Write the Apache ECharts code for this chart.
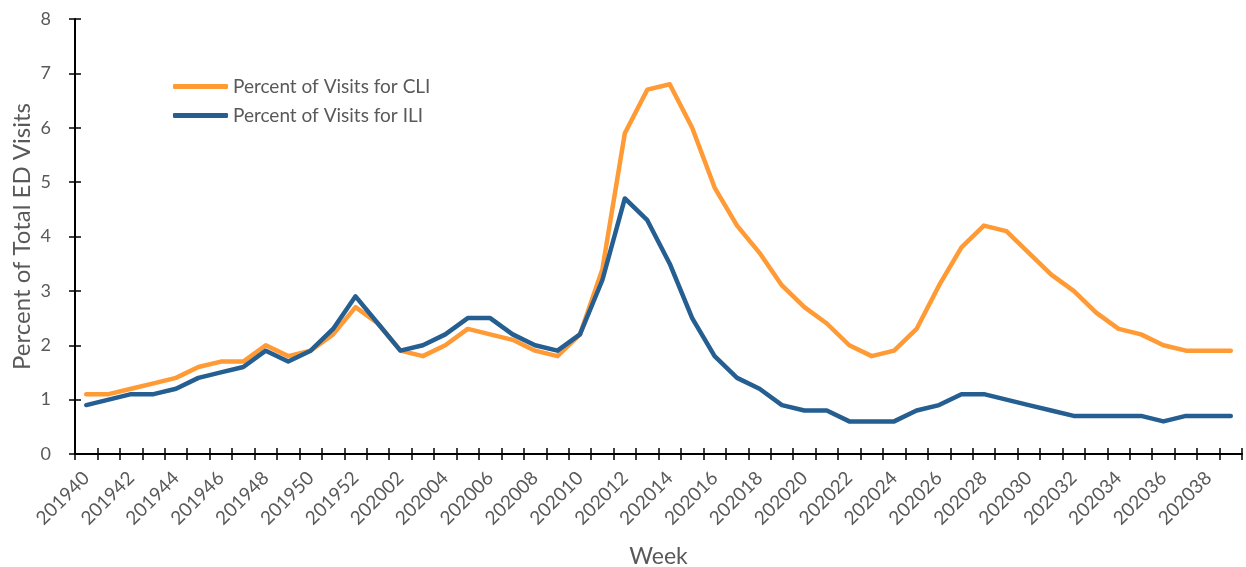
<!DOCTYPE html>
<html>
<head>
<meta charset="utf-8">
<script src="https://cdn.jsdelivr.net/npm/echarts@6/dist/echarts.min.js"></script>
<style>
  html, body { margin: 0; padding: 0; background: #ffffff; }
  #chart { width: 1246px; height: 567px; }
</style>
</head>
<body>
<div id="chart"></div>
<script>
// MMWR weeks, 2019 week 40 through 2020 week 39
const weeks = [
  '201940','201941','201942','201943','201944','201945','201946','201947','201948','201949',
  '201950','201951','201952','202001','202002','202003','202004','202005','202006','202007',
  '202008','202009','202010','202011','202012','202013','202014','202015','202016','202017',
  '202018','202019','202020','202021','202022','202023','202024','202025','202026','202027',
  '202028','202029','202030','202031','202032','202033','202034','202035','202036','202037',
  '202038','202039'
];

// Percent of ED visits for COVID-like illness
const cliPercent = [
  1.1, 1.1, 1.2, 1.3, 1.4, 1.6, 1.7, 1.7, 2.0, 1.8,
  1.9, 2.2, 2.7, 2.4, 1.9, 1.8, 2.0, 2.3, 2.2, 2.1,
  1.9, 1.8, 2.2, 3.4, 5.9, 6.7, 6.8, 6.0, 4.9, 4.2,
  3.7, 3.1, 2.7, 2.4, 2.0, 1.8, 1.9, 2.3, 3.1, 3.8,
  4.2, 4.1, 3.7, 3.3, 3.0, 2.6, 2.3, 2.2, 2.0, 1.9,
  1.9, 1.9
];

// Percent of ED visits for influenza-like illness
const iliPercent = [
  0.9, 1.0, 1.1, 1.1, 1.2, 1.4, 1.5, 1.6, 1.9, 1.7,
  1.9, 2.3, 2.9, 2.4, 1.9, 2.0, 2.2, 2.5, 2.5, 2.2,
  2.0, 1.9, 2.2, 3.2, 4.7, 4.3, 3.5, 2.5, 1.8, 1.4,
  1.2, 0.9, 0.8, 0.8, 0.6, 0.6, 0.6, 0.8, 0.9, 1.1,
  1.1, 1.0, 0.9, 0.8, 0.7, 0.7, 0.7, 0.7, 0.6, 0.7,
  0.7, 0.7
];

const seriesNames = ['Percent of Visits for CLI', 'Percent of Visits for ILI'];
const yTicks = { min: 0, max: 8, interval: 1 };

const FONT = 'Lato, "Liberation Sans", sans-serif';
const TEXT = '#595959';
const ORANGE = '#FF9A35';
const BLUE = '#255E91';

const chart = echarts.init(document.getElementById('chart'), null, { renderer: 'canvas' });

const axisLine = { show: true, lineStyle: { color: '#000000', width: 2 } };

chart.setOption({
  animation: false,
  backgroundColor: '#ffffff',
  textStyle: { fontFamily: FONT },
  grid: { left: 75, right: 4, top: 19, bottom: 113, containLabel: false, outerBoundsMode: 'none' },
  legend: {
    orient: 'vertical',
    left: 173,
    top: 72,
    padding: 0,
    itemWidth: 55,
    itemHeight: 5,
    itemGap: 0,
    icon: 'roundRect',
    textStyle: { fontFamily: FONT, fontSize: 19, color: TEXT, lineHeight: 29 },
    data: seriesNames
  },
  xAxis: [
    {
      type: 'category',
      data: weeks,
      boundaryGap: true,
      position: 'bottom',
      axisLine: axisLine,
      axisTick: { show: true, inside: false, length: 6, interval: 0, lineStyle: { color: '#000000', width: 1.5 } },
      axisLabel: {
        interval: 1,
        rotate: 45,
        margin: 21,
        fontSize: 19,
        color: TEXT,
        fontFamily: FONT
      },
      splitLine: { show: false },
      name: 'Week',
      nameLocation: 'middle',
      nameGap: 91,
      nameMoveOverlap: false,
      nameTextStyle: { fontSize: 23, color: TEXT, fontFamily: FONT }
    },
    {
      // second pass over the same axis so the ticks cross the line
      type: 'category',
      data: weeks,
      boundaryGap: true,
      position: 'bottom',
      axisLine: { show: false },
      axisTick: { show: true, inside: true, length: 6, interval: 0, lineStyle: { color: '#000000', width: 1.5 } },
      axisLabel: { show: false },
      splitLine: { show: false }
    }
  ],
  yAxis: [
    {
      type: 'value',
      min: yTicks.min,
      max: yTicks.max,
      interval: yTicks.interval,
      position: 'left',
      axisLine: axisLine,
      axisTick: { show: true, inside: false, length: 6, lineStyle: { color: '#000000', width: 1.5 } },
      axisLabel: { margin: 24, fontSize: 18, color: TEXT, fontFamily: FONT },
      splitLine: { show: false },
      name: 'Percent of Total ED Visits',
      nameLocation: 'middle',
      nameGap: 41,
      nameMoveOverlap: false,
      nameTextStyle: { fontSize: 24, color: TEXT, fontFamily: FONT }
    },
    {
      type: 'value',
      min: yTicks.min,
      max: yTicks.max,
      interval: yTicks.interval,
      position: 'left',
      axisLine: { show: false },
      axisTick: { show: true, inside: true, length: 6, lineStyle: { color: '#000000', width: 1.5 } },
      axisLabel: { show: false },
      splitLine: { show: false }
    }
  ],
  series: [
    {
      name: seriesNames[0],
      type: 'line',
      data: cliPercent,
      xAxisIndex: 0,
      yAxisIndex: 0,
      showSymbol: false,
      symbol: 'none',
      color: ORANGE,
      lineStyle: { color: ORANGE, width: 4.5, join: 'round', cap: 'round' },
      z: 2
    },
    {
      name: seriesNames[1],
      type: 'line',
      data: iliPercent,
      xAxisIndex: 0,
      yAxisIndex: 0,
      showSymbol: false,
      symbol: 'none',
      color: BLUE,
      lineStyle: { color: BLUE, width: 4.5, join: 'round', cap: 'round' },
      z: 3
    }
  ]
});
</script>
</body>
</html>
